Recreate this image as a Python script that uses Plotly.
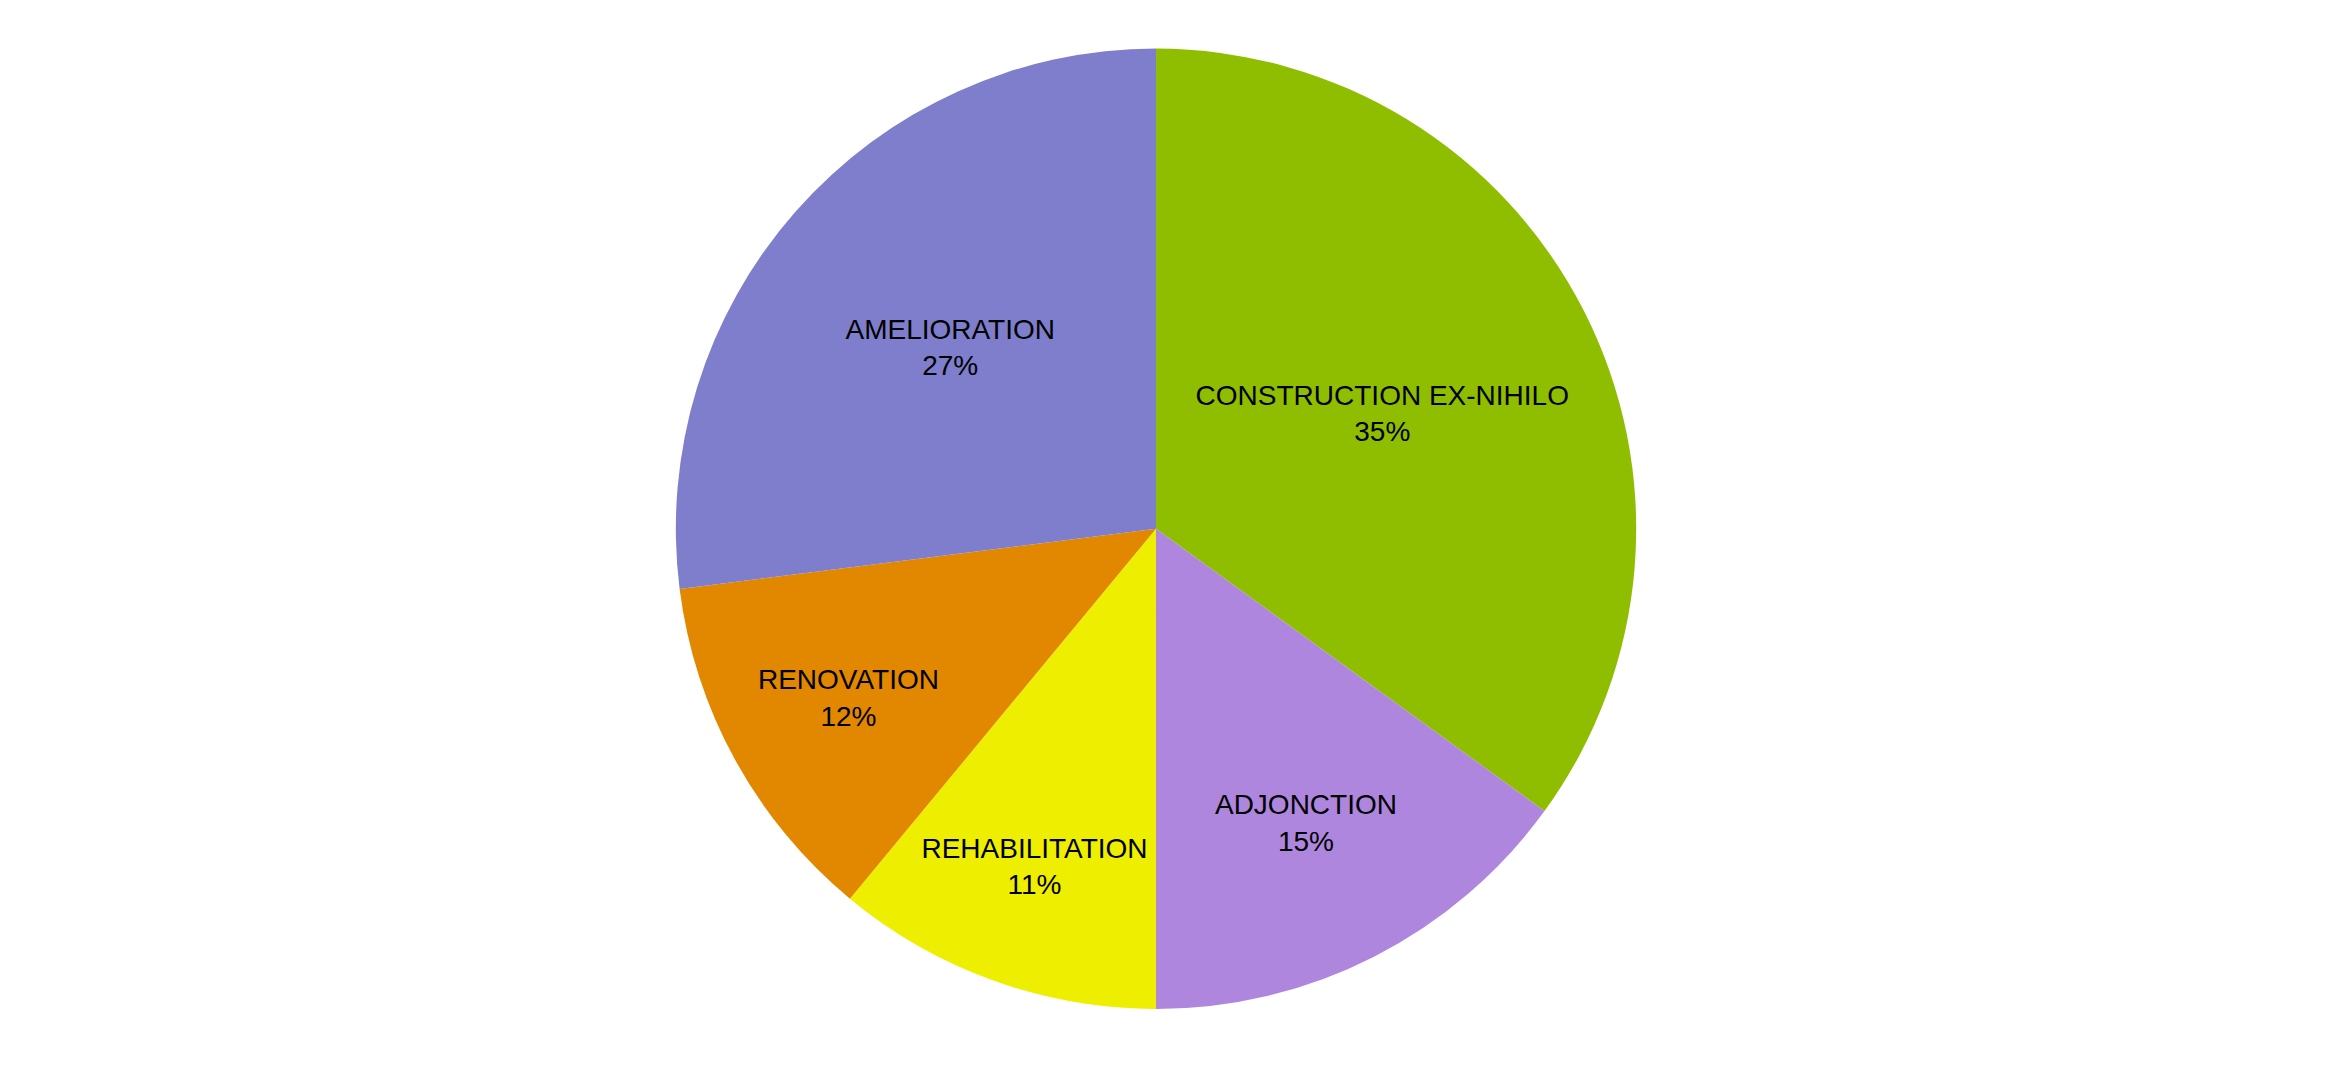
import plotly.graph_objects as go

categories = ["CONSTRUCTION EX-NIHILO", "ADJONCTION", "REHABILITATION", "RENOVATION", "AMELIORATION"]
values = [35, 15, 11, 12, 27]
colors = ["#8fbe00", "#ae86de", "#eeee00", "#e28800", "#7e7ecc"]

fig = go.Figure(go.Pie(
    labels=categories,
    values=values,
    sort=False,
    direction="clockwise",
    rotation=0,
    marker=dict(colors=colors, line=dict(width=0)),
    textinfo="label+percent",
    texttemplate="%{label}<br>%{percent:.0%}",
    textposition="inside",
    insidetextorientation="horizontal",
    textfont=dict(family="Liberation Sans, Arial, sans-serif", size=28, color="#000000"),
    domain=dict(x=[0.2865, 0.6985], y=[0.058, 0.964]),
    hoverinfo="label+percent",
))
fig.update_layout(
    width=2331, height=1065,
    margin=dict(l=0, r=0, t=0, b=0),
    paper_bgcolor="white",
    showlegend=False,
    uniformtext=dict(minsize=28, mode="show"),
)
fig.write_html("out.html")
